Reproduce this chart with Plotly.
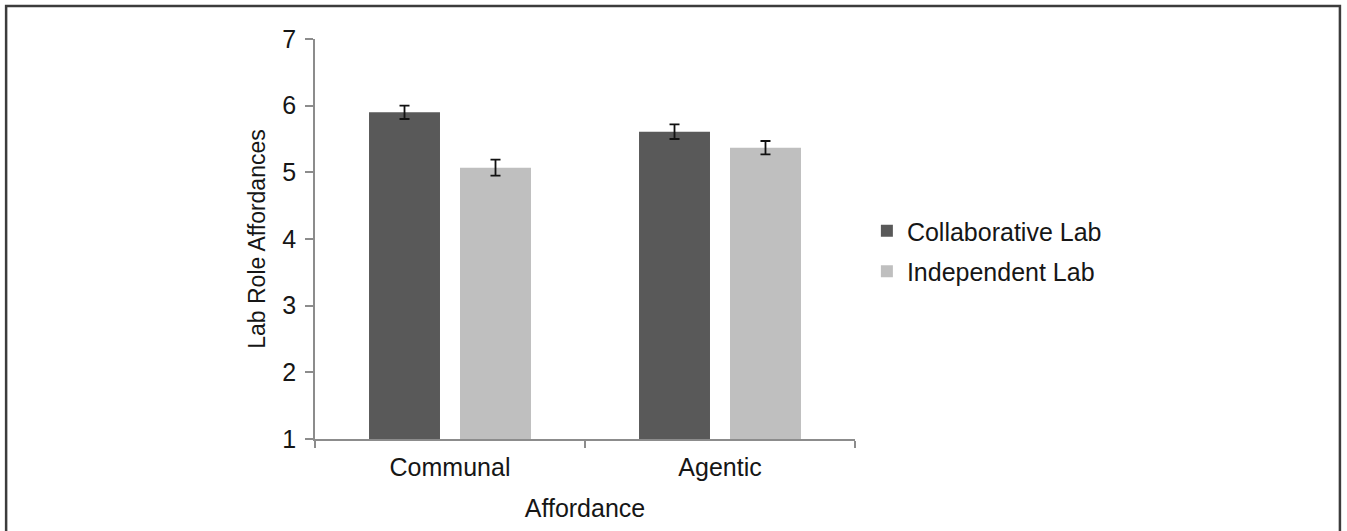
import plotly.graph_objects as go

categories = ["Communal", "Agentic"]
collaborative = [5.90, 5.61]
collaborative_err = [0.10, 0.11]
independent = [5.07, 5.37]
independent_err = [0.12, 0.10]
y_ticks = [1, 2, 3, 4, 5, 6, 7]

FONT = "Liberation Sans, Arial, sans-serif"
INK = "#161616"
AXIS = "#8c8c8c"

fig = go.Figure()
fig.add_trace(go.Bar(
    name="Collaborative Lab", x=categories, y=collaborative,
    legendgroup="collab",
    marker=dict(color="#595959", line=dict(width=0)),
    error_y=dict(type="data", array=collaborative_err, color="#111111",
                 thickness=1.8, width=5),
))
fig.add_trace(go.Bar(
    name="Independent Lab", x=categories, y=independent,
    legendgroup="indep",
    marker=dict(color="#bfbfbf", line=dict(width=0)),
    error_y=dict(type="data", array=independent_err, color="#111111",
                 thickness=1.8, width=5),
))

fig.update_layout(
    width=1347, height=531,
    margin=dict(l=315, r=492, t=39, b=92),
    paper_bgcolor="white", plot_bgcolor="white",
    barmode="group", bargap=0.326, bargroupgap=0.22,
    font=dict(family=FONT, color=INK),
    showlegend=True,
    legend=dict(x=1.022, y=0.47, xanchor="left", yanchor="middle",
                traceorder="grouped", tracegroupgap=5,
                font=dict(size=25, family=FONT, color=INK),
                itemwidth=30, bgcolor="rgba(0,0,0,0)"),
    xaxis=dict(
        title=dict(text="Affordance", font=dict(size=25), standoff=20),
        tickfont=dict(size=25), ticklabelstandoff=5,
        showline=True, linecolor=AXIS, linewidth=1.5,
        ticks="outside", tickson="boundaries", ticklen=7,
        tickcolor=AXIS, tickwidth=1.5,
        showgrid=False, zeroline=False,
    ),
    yaxis=dict(
        title=dict(text="Lab Role Affordances", font=dict(size=23), standoff=10),
        range=[1, 7], tickvals=y_ticks, tickfont=dict(size=25),
        ticklabelstandoff=4,
        showline=True, linecolor=AXIS, linewidth=1.5,
        ticks="outside", ticklen=8, tickcolor=AXIS, tickwidth=1.5,
        showgrid=False, zeroline=False,
    ),
    shapes=[dict(
        type="rect", xref="paper", yref="paper",
        x0=-0.572, x1=1.898, y0=-0.3, y1=1.0825,
        line=dict(color="#3c3c3c", width=2.5), fillcolor="rgba(0,0,0,0)",
        layer="below",
    )],
)

fig.write_html("out.html")
